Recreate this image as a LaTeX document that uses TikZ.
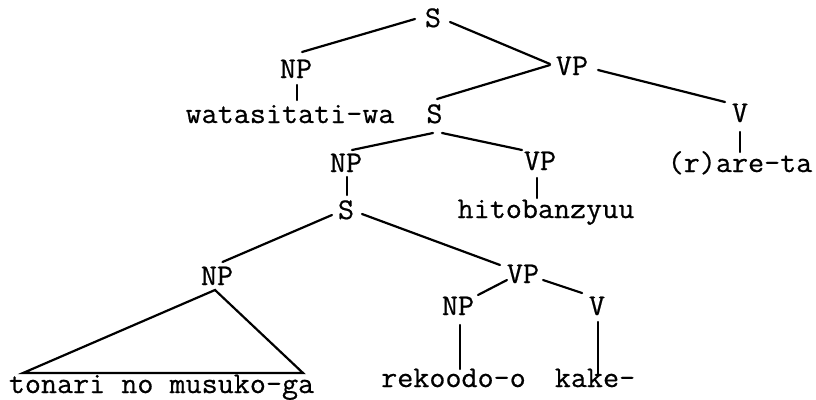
\documentclass[tikz,border=0pt]{standalone}
\usepackage{fontspec}
\newfontfamily\twfont[FakeStretch=1.04,FakeBold=0.6]{Latin Modern Mono}
\usetikzlibrary{calc}
\tikzset{
  lbl/.style={font=\twfont\fontsize{30}{34}\selectfont, inner sep=0pt, anchor=base},
  edge/.style={line width=2.2pt, line cap=round}
}
\begin{document}
\begin{tikzpicture}[x=1pt,y=-1pt]
\useasboundingbox (0,0) rectangle (816,399);
% nodes
\node[lbl] (s1) at (433,27) {S};
\node[lbl] (np1) at (296,78) {NP};
\node[lbl] (vp1) at (572,75) {VP};
\node[lbl] (w1) at (290,123) {watasitati-wa};
\node[lbl] (s2) at (434.5,123) {S};
\node[lbl] (v1) at (740,122) {V};
\node[lbl] (r1) at (740,172) {(r)are-ta};
\node[lbl] (np2) at (346,172) {NP};
\node[lbl] (vp2) at (540,170) {VP};
\node[lbl] (h1) at (546,218) {hitobanzyuu};
\node[lbl] (s3) at (346,219) {S};
\node[lbl] (np3) at (217,285) {NP};
\node[lbl] (vp3) at (523,283) {VP};
\node[lbl] (np4) at (458,315) {NP};
\node[lbl] (v4) at (597,315) {V};
\node[lbl] (t1) at (161.5,393) {tonari no musuko-ga};
\node[lbl] (rk) at (453.5,387) {rekoodo-o};
\node[lbl] (kk) at (595,387) {kake-};
% connectors
\draw[edge] ($(s1.base)+(-18,-8)$) -- ($(np1.base)+(6,-26)$);
\draw[edge] ($(s1.base)+(17,-5)$) -- ($(vp1.base)+(-22,-11)$);
\draw[edge] ($(np1.base)+(1,7)$) -- ($(w1.base)+(7,-23)$);
\draw[edge] ($(vp1.base)+(-22,-10)$) -- ($(s2.base)+(2.5,-24)$);
\draw[edge] ($(vp1.base)+(26,-5)$) -- ($(v1.base)+(-15,-20)$);
\draw[edge] ($(v1.base)+(0,10)$) -- ($(r1.base)+(0,-20)$);
\draw[edge] ($(s2.base)+(-1.5,10)$) -- ($(np2.base)+(6,-22)$);
\draw[edge] ($(s2.base)+(7.5,10)$) -- ($(vp2.base)+(-18,-20)$);
\draw[edge] ($(np2.base)+(1,5)$) -- ($(s3.base)+(1,-24)$);
\draw[edge] ($(vp2.base)+(-3,8)$) -- ($(h1.base)+(-9,-20)$);
\draw[edge] ($(s3.base)+(-14,-4)$) -- ($(np3.base)+(5.5,-23)$);
\draw[edge] ($(s3.base)+(16,-5)$) -- ($(vp3.base)+(-23,-18)$);
\draw[edge, line join=miter] ($(np3.base)+(-2,5)$) -- ($(t1.base)+(-138.5,-20)$) -- ($(t1.base)+(141.5,-20)$) -- cycle;
\draw[edge] ($(vp3.base)+(-16,-3)$) -- ($(np4.base)+(20,-20)$);
\draw[edge] ($(vp3.base)+(20,-3)$) -- ($(v4.base)+(-15,-22)$);
\draw[edge] ($(np4.base)+(2,10)$) -- ($(rk.base)+(6.5,-18)$);
\draw[edge] ($(v4.base)+(1,7)$) -- ($(kk.base)+(3,-12)$);
\end{tikzpicture}
\end{document}
